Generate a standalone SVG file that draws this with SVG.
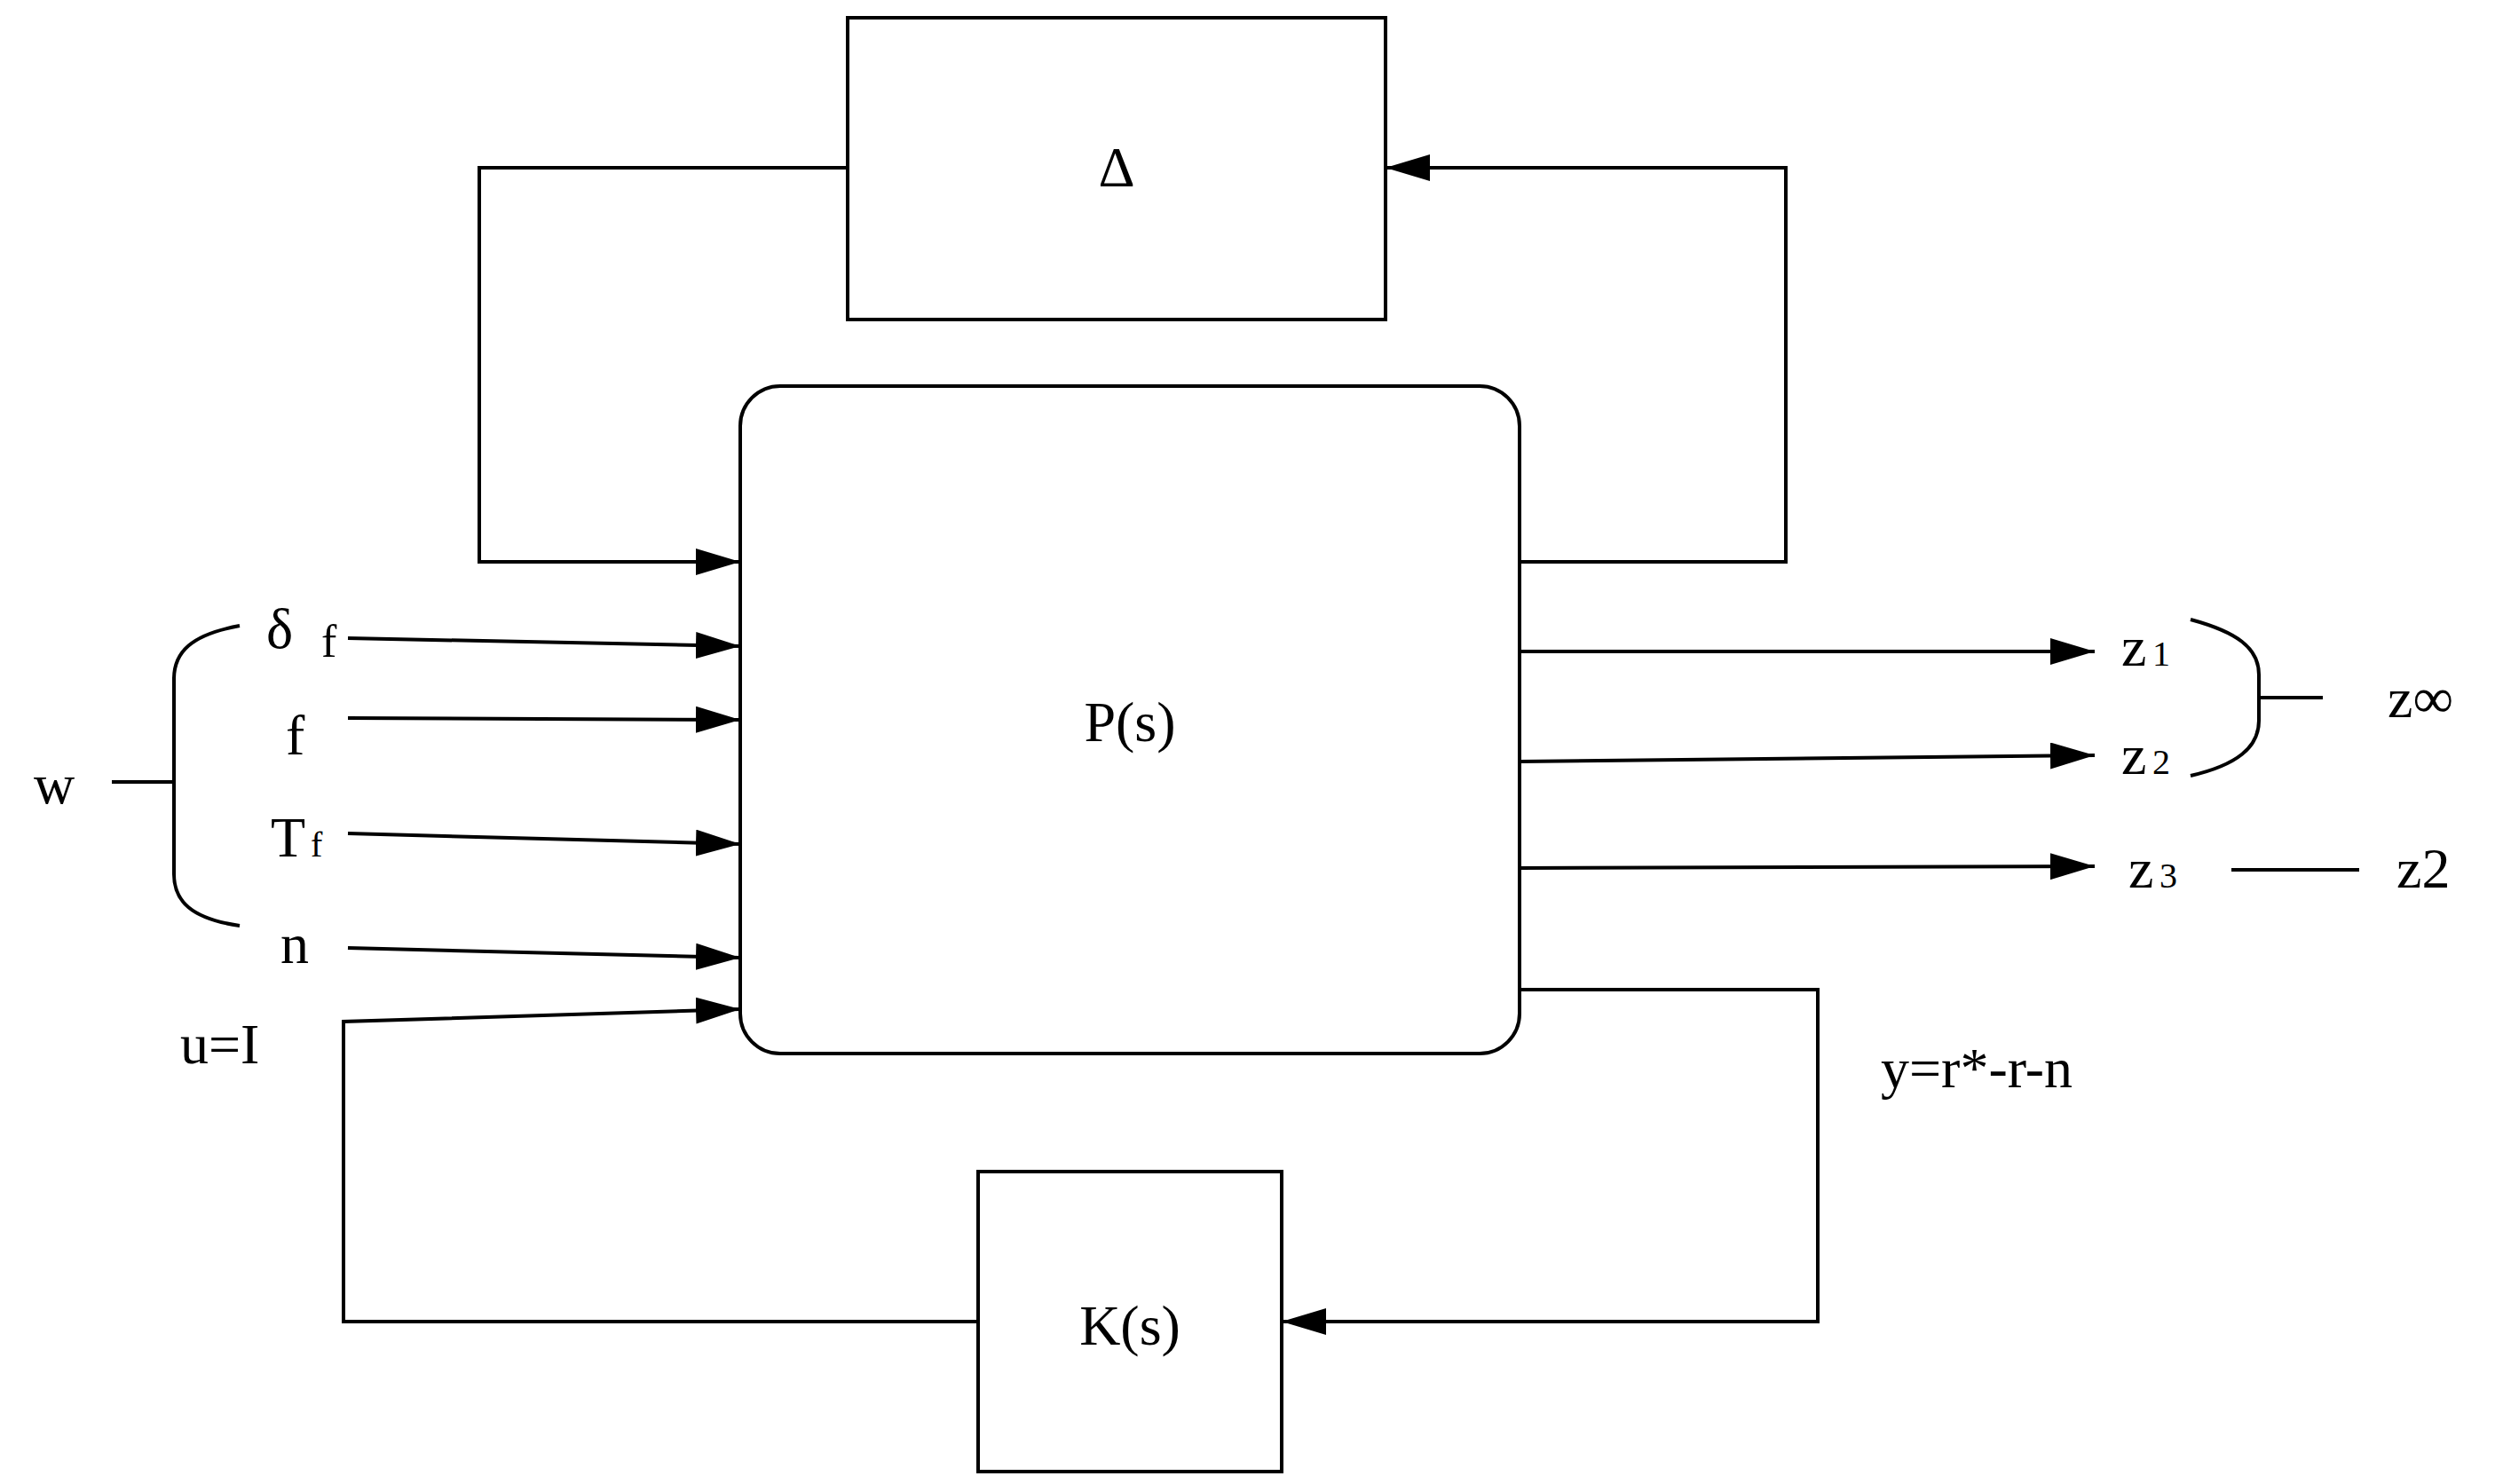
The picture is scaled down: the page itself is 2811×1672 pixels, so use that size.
<svg xmlns="http://www.w3.org/2000/svg" width="2811" height="1672" viewBox="0 0 2811 1672">
<defs>
<style>
.b{fill:#fff;stroke:#000;stroke-width:4}
.l{fill:none;stroke:#000;stroke-width:4}
text{font-family:"Liberation Serif",serif;font-size:64px;fill:#000}
.s{font-size:40px}
</style>
<marker id="a" markerWidth="14" markerHeight="10" refX="14" refY="5" orient="auto" markerUnits="userSpaceOnUse" viewBox="0 0 14 10"><path d="M0,0L14,5L0,10z"/></marker>
<marker id="A" markerWidth="50" markerHeight="30" refX="50" refY="15" orient="auto" markerUnits="userSpaceOnUse" viewBox="0 0 50 30"><path d="M0,0L50,15L0,30z"/></marker>
</defs>
<g id="connectors">
<path class="l" d="M955,189H540V633H834" marker-end="url(#A)"/>
<path class="l" d="M1712,633H2012V189H1561" marker-end="url(#A)"/>
<path class="l" d="M392,719L834,728" marker-end="url(#A)"/>
<path class="l" d="M392,809L834,811" marker-end="url(#A)"/>
<path class="l" d="M392,939L834,951" marker-end="url(#A)"/>
<path class="l" d="M392,1068L834,1079" marker-end="url(#A)"/>
<path class="l" d="M1102,1489H387V1151L834,1137" marker-end="url(#A)"/>
<path class="l" d="M1712,734H2360" marker-end="url(#A)"/>
<path class="l" d="M1712,858L2360,851" marker-end="url(#A)"/>
<path class="l" d="M1712,978L2360,976" marker-end="url(#A)"/>
<path class="l" d="M1712,1115H2048V1489H1444" marker-end="url(#A)"/>
<path class="l" d="M270,705C215,715 196,735 196,765V985C196,1015 215,1035 270,1043"/>
<path class="l" d="M126,881H196"/>
<path class="l" d="M2468,698C2520,712 2545,730 2545,760V812C2545,842 2520,862 2468,874"/>
<path class="l" d="M2545,786H2617"/>
<path class="l" d="M2514,980H2658"/>
</g>
<g id="delta"><rect class="b" x="955" y="20" width="606" height="340"/><text x="1258" y="210" text-anchor="middle">Δ</text></g>
<g id="P"><rect class="b" x="834" y="435" width="878" height="752" rx="45"/><text x="1273" y="835" text-anchor="middle">P(s)</text></g>
<g id="K"><rect class="b" x="1102" y="1320" width="342" height="338"/><text x="1273" y="1515" text-anchor="middle">K(s)</text></g>
<g id="labels">
<text x="300" y="730">δ</text><text x="362" y="740" class="s" style="font-size:52px">f</text>
<text x="322" y="850">f</text>
<text x="305" y="965">T</text><text x="350" y="965" class="s">f</text>
<text x="316" y="1085">n</text>
<text x="38" y="905">w</text>
<text x="203" y="1198">u=I</text>
<text x="2119" y="1225">y=r*-r-n</text>
<text x="2390" y="750">z</text><text x="2425" y="750" class="s">1</text>
<text x="2390" y="872">z</text><text x="2425" y="872" class="s">2</text>
<text x="2398" y="1000">z</text><text x="2433" y="1000" class="s">3</text>
<text x="2690" y="808">z∞</text>
<text x="2700" y="1000">z2</text>
</g>
</svg>
